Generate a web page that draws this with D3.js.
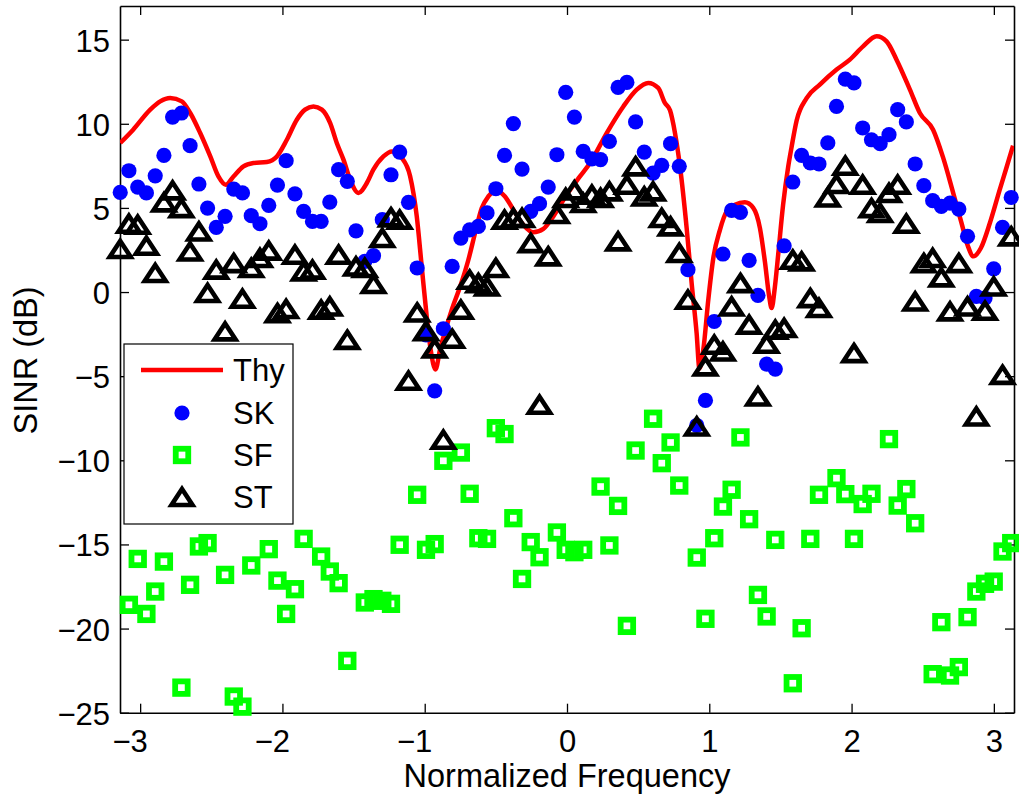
<!DOCTYPE html>
<html><head><meta charset="utf-8">
<script src="https://cdn.jsdelivr.net/npm/d3@7"></script>
<style>
html,body{margin:0;padding:0;background:#fff;}
svg{display:block;font-family:"Liberation Sans",Arial,Helvetica,sans-serif;}
</style></head><body>
<svg id="chart" width="1019" height="797"></svg>
<script>
// ---- data ----
const freq = [-3.140,-3.079,-3.017,-2.956,-2.894,-2.833,-2.772,-2.710,-2.649,-2.587,
-2.526,-2.465,-2.403,-2.342,-2.281,-2.219,-2.158,-2.096,-2.035,-1.974,
-1.912,-1.851,-1.789,-1.728,-1.667,-1.605,-1.544,-1.483,-1.421,-1.360,
-1.298,-1.237,-1.176,-1.114,-1.053,-0.991,-0.930,-0.869,-0.807,-0.746,
-0.684,-0.623,-0.562,-0.500,-0.439,-0.377,-0.316,-0.255,-0.193,-0.132,
-0.071,-0.009,0.052,0.114,0.175,0.236,0.298,0.359,0.421,0.482,
0.543,0.605,0.666,0.728,0.789,0.850,0.912,0.973,1.035,1.096,
1.157,1.219,1.280,1.342,1.403,1.464,1.526,1.587,1.649,1.710,
1.771,1.833,1.894,1.956,2.017,2.078,2.140,2.201,2.263,2.324,
2.385,2.447,2.508,2.570,2.631,2.692,2.754,2.815,2.877,2.938,
2.999,3.061,3.122];

const SK = [5.92,7.21,6.24,5.89,6.91,8.12,10.40,10.64,8.70,6.42,
4.99,3.84,4.50,6.12,5.89,4.54,4.06,5.15,6.36,7.81,
5.84,4.79,4.20,4.20,5.35,7.27,6.58,3.64,1.82,2.16,
4.30,6.97,8.32,5.33,1.43,-2.54,-5.87,-2.18,1.52,3.21,
3.70,3.90,4.70,6.14,8.12,10.01,7.31,4.79,5.25,6.24,
8.16,11.87,10.40,8.36,7.91,7.87,8.95,12.16,12.46,10.11,
8.32,7.07,7.53,8.82,7.47,1.33,-7.93,-6.44,-1.75,2.26,
4.85,4.73,1.88,-0.20,-4.28,-4.58,2.75,6.54,8.12,7.67,
7.61,8.86,11.03,12.66,12.43,9.75,9.05,8.82,9.35,10.84,
10.11,7.61,6.32,5.43,5.09,5.29,4.93,3.31,-0.26,-0.36,
1.38,3.84,5.62];

const SF = [null,-18.59,-15.86,-19.13,-17.80,-16.02,null,-23.51,-17.40,-15.12,
-14.92,null,-16.81,-24.04,-24.64,-16.25,null,-15.28,-17.15,-19.13,
-17.66,-14.67,null,-15.72,-16.61,-17.30,-21.92,null,-18.45,-18.25,
-18.35,-18.53,-15.02,null,-12.05,-15.32,-14.98,-10.03,null,-9.54,
-11.99,-14.63,-14.67,-8.09,-8.44,-13.44,-17.05,-14.86,-15.76,null,
-14.29,-15.32,-15.46,-15.32,null,-11.56,-15.06,-12.71,-19.84,-9.42,
null,-7.53,-10.17,-8.94,-11.50,null,-15.78,-19.42,-14.63,-12.75,
-11.75,-8.64,-13.50,-18.00,-19.28,-14.73,null,-23.25,-19.98,-14.67,
-12.05,null,-11.06,-12.01,-14.67,-12.60,-11.99,null,-8.74,-12.69,
-11.71,-13.74,null,-22.71,-19.62,-22.79,-22.29,-19.32,-17.80,-17.34,
-17.21,-15.42,-14.92];

const ST = [2.56,4.06,4.00,2.75,1.13,5.33,6.04,4.99,2.41,3.60,
-0.06,1.33,-2.34,1.72,-0.40,1.43,2.02,2.46,-1.25,-1.01,
2.22,1.23,1.33,-1.05,-0.86,2.22,-2.84,1.52,1.43,0.48,
3.21,4.44,4.30,-5.27,-1.22,-2.32,-3.35,-8.78,-2.78,-1.05,
0.73,0.53,0.33,1.43,4.30,4.40,4.40,2.91,-6.70,2.12,
4.64,5.59,6.04,5.29,5.78,5.59,5.98,3.01,6.38,7.47,
5.68,5.98,4.40,3.90,2.32,-0.46,-7.99,-4.42,-3.13,-3.53,
-0.86,0.53,-1.94,-6.21,-3.07,-2.24,-2.14,1.92,1.82,-0.36,
-0.95,5.62,6.42,7.51,-3.63,6.38,4.99,4.70,5.89,6.38,
4.06,-0.56,1.72,2.02,0.87,-1.15,1.72,-0.86,-7.40,-1.11,
0.33,-4.92,3.31];

const thyFreq = [-3.140,-3.049,-2.929,-2.859,-2.789,-2.707,-2.648,-2.578,-2.507,-2.450,
-2.398,-2.344,-2.274,-2.204,-2.110,-2.039,-1.969,-1.899,-1.841,-1.782,
-1.723,-1.665,-1.618,-1.571,-1.524,-1.466,-1.407,-1.361,-1.290,-1.231,
-1.161,-1.103,-1.056,-1.021,-0.986,-0.958,-0.924,-0.892,-0.857,-0.808,
-0.752,-0.693,-0.646,-0.599,-0.553,-0.499,-0.436,-0.377,-0.307,-0.237,
-0.166,-0.096,-0.002,0.091,0.162,0.279,0.396,0.490,0.571,0.641,
0.688,0.724,0.759,0.794,0.841,0.876,0.911,0.931,0.958,0.993,
1.028,1.075,1.122,1.180,1.250,1.309,1.356,1.391,1.421,1.438,
1.461,1.484,1.519,1.555,1.578,1.614,1.684,1.777,1.895,1.988,
2.081,2.176,2.246,2.316,2.410,2.480,2.573,2.643,2.714,2.773,
2.819,2.856,2.908,2.972,3.042,3.089,3.135];

const thyVal = [8.86,9.65,10.84,11.33,11.53,11.33,10.64,9.45,8.06,6.87,
6.38,6.87,7.47,7.67,7.73,8.06,9.05,10.24,10.84,11.03,
10.84,10.05,8.86,7.87,6.68,5.89,6.48,7.27,8.06,8.36,
7.97,6.90,4.50,1.52,-1.45,-3.43,-4.60,-3.40,-2.34,-1.00,
0.30,1.92,3.51,4.99,5.68,6.04,5.68,4.89,4.00,3.55,
3.75,4.50,5.78,6.87,7.67,9.45,11.03,12.03,12.43,12.13,
11.24,10.80,9.45,7.47,3.80,0.53,-2.44,-4.55,-3.43,-0.46,
2.00,3.70,4.79,5.19,5.33,5.00,3.80,1.80,-0.26,-0.95,
0.30,2.20,5.20,7.47,8.60,10.20,11.53,12.33,13.22,13.81,
14.60,15.20,14.90,13.81,12.03,10.64,9.65,8.00,5.90,4.10,
2.70,2.12,2.60,4.10,6.10,7.40,8.70];

const xTicks = [-3,-2,-1,0,1,2,3];
const yTicks = [-25,-20,-15,-10,-5,0,5,10,15];
const legendLabels = ["Thy","SK","SF","ST"];
const xLabel = "Normalized Frequency";
const yLabel = "SINR (dB)";

// ---- layout ----
const L = 120, R = 1014, T = 6, B = 712.7;
const FS = 31, FSL = 32.5;
const x = d3.scaleLinear().domain([-Math.PI, Math.PI]).range([L, R]);
const y = d3.scaleLinear().domain([-25, 17]).range([B, T]);
const svg = d3.select("#chart");

svg.append("rect").attr("width", 1019).attr("height", 797).attr("fill", "#fff");

svg.append("defs").append("clipPath").attr("id", "plotclip")
  .append("rect").attr("x", L).attr("y", T).attr("width", R - L).attr("height", B - T);

// ---- axes ----
const fmt = d3.format("d");
const axB = svg.append("g").attr("transform", `translate(0,${B})`)
  .call(d3.axisBottom(x).tickValues(xTicks).tickFormat(fmt).tickSizeInner(-9).tickSizeOuter(0).tickPadding(17));
const axT = svg.append("g").attr("transform", `translate(0,${T})`)
  .call(d3.axisTop(x).tickValues(xTicks).tickFormat("").tickSizeInner(-9).tickSizeOuter(0));
const axL = svg.append("g").attr("transform", `translate(${L},0)`)
  .call(d3.axisLeft(y).tickValues(yTicks).tickFormat(fmt).tickSizeInner(-9).tickSizeOuter(0).tickPadding(10));
const axR = svg.append("g").attr("transform", `translate(${R},0)`)
  .call(d3.axisRight(y).tickValues(yTicks).tickFormat("").tickSizeInner(-9).tickSizeOuter(0));

[axB, axT, axL, axR].forEach(a => {
  a.select(".domain").attr("stroke", "#000").attr("stroke-width", 1.6);
  a.selectAll(".tick line").attr("stroke", "#000").attr("stroke-width", 1.3);
  a.selectAll("text").attr("font-size", FS).attr("font-family", '"Liberation Sans",Arial,sans-serif').attr("fill", "#000");
});
axB.selectAll(".tick text").attr("dx", d => d < 0 ? "-0.34em" : 0);
axL.selectAll(".tick text").attr("dy", "0.37em");

// ---- theory curve ----
const thyData = thyFreq.map((f, i) => ({f, v: thyVal[i]}));
svg.append("path").datum(thyData)
  .attr("clip-path", "url(#plotclip)")
  .attr("fill", "none").attr("stroke", "#ff0000").attr("stroke-width", 4.5)
  .attr("stroke-linejoin", "round")
  .attr("d", d3.line().x(d => x(d.f)).y(d => y(d.v)).curve(d3.curveMonotoneX));

// ---- markers ----
const pts = (arr) => freq.map((f, i) => ({f, v: arr[i]})).filter(d => d.v !== null && d.v >= -25 && d.v <= 17);

svg.append("g").selectAll("circle").data(pts(SK)).join("circle")
  .attr("cx", d => x(d.f)).attr("cy", d => y(d.v)).attr("r", 7.6).attr("fill", "#0000ff");

const SQ = 12.5;
svg.append("g").selectAll("rect").data(pts(SF)).join("rect")
  .attr("x", d => x(d.f) - SQ / 2).attr("y", d => y(d.v) - SQ / 2)
  .attr("width", SQ).attr("height", SQ)
  .attr("fill", "none").attr("stroke", "#00ff00").attr("stroke-width", 5.8);

const TW = 21, TH = 16, TSW = 4.6;
const triPath = `M0,${-TH/2}L${TW/2},${TH/2}L${-TW/2},${TH/2}Z`;
svg.append("g").selectAll("path").data(pts(ST)).join("path")
  .attr("transform", d => `translate(${x(d.f)},${y(d.v)})`)
  .attr("d", triPath).attr("fill", "none").attr("stroke", "#000")
  .attr("stroke-width", TSW).attr("stroke-linejoin", "miter");

// ---- axis labels ----
svg.append("text").attr("x", 567).attr("y", 786.5).attr("text-anchor", "middle")
  .attr("font-size", FSL).attr("fill", "#000").text(xLabel);
svg.append("text").attr("transform", "translate(37,360.5) rotate(-90)").attr("text-anchor", "middle")
  .attr("font-size", FSL).attr("fill", "#000").text(yLabel);

// ---- legend ----
const lg = svg.append("g");
lg.append("rect").attr("x", 124).attr("y", 344).attr("width", 169).attr("height", 180)
  .attr("fill", "#fff").attr("stroke", "#000").attr("stroke-width", 1.2);
const rowY = [370, 413, 455, 497];
lg.append("line").attr("x1", 141).attr("x2", 223).attr("y1", rowY[0]).attr("y2", rowY[0])
  .attr("stroke", "#ff0000").attr("stroke-width", 4.5);
lg.append("circle").attr("cx", 182).attr("cy", rowY[1]).attr("r", 7.6).attr("fill", "#0000ff");
lg.append("rect").attr("x", 182 - SQ / 2).attr("y", rowY[2] - SQ / 2).attr("width", SQ).attr("height", SQ)
  .attr("fill", "none").attr("stroke", "#00ff00").attr("stroke-width", 5.8);
lg.append("path").attr("transform", `translate(182,${rowY[3]})`).attr("d", triPath)
  .attr("fill", "none").attr("stroke", "#000").attr("stroke-width", TSW);
lg.selectAll("text.lab").data(legendLabels).join("text").attr("class", "lab")
  .attr("x", 233).attr("y", (d, i) => rowY[i] + 11)
  .attr("font-size", FS).attr("fill", "#000").text(d => d);
</script>
</body></html>
